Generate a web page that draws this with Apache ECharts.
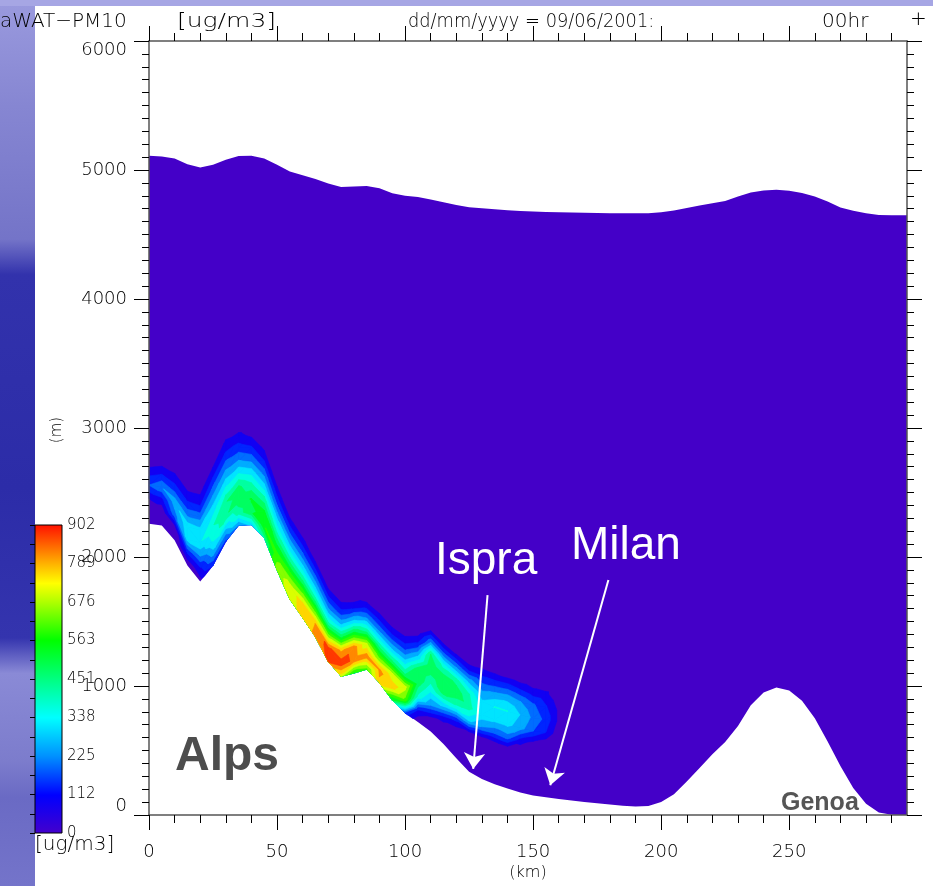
<!DOCTYPE html>
<html><head><meta charset="utf-8">
<script src="https://cdn.jsdelivr.net/npm/echarts@6/dist/echarts.min.js"></script>
<style>html,body{margin:0;padding:0;background:#fff}#c{width:933px;height:886px}</style>
</head><body><div id="c"></div>
<script>
// ---------------- data ----------------
const distKm = [0,5,10,15,20,25,30,35,40,45,50,55,60,65,70,75,80,85,90,95,100,105,110,115,120,125,130,135,140,145,150,155,160,165,170,175,180,185,190,195,200,205,210,215,220,225,230,235,240,245,250,255,260,265,270,275,280,285,290,295,296];
const terrainM = [2257,2244,2130,1935,1810,1935,2120,2245,2250,2150,1900,1673,1530,1380,1190,1075,1100,1130,1025,890,790,720,648,550,440,335,280,238,205,175,152,138,125,112,100,92,82,72,65,70,100,160,260,365,470,565,690,850,950,988,965,885,750,570,380,210,88,20,2,0,0];
const modelTopM = [5110,5105,5090,5045,5020,5040,5080,5108,5110,5090,5040,4988,4960,4930,4895,4868,4872,4876,4858,4820,4800,4790,4772,4750,4729,4712,4703,4695,4688,4682,4678,4675,4673,4670,4668,4666,4665,4664,4664,4664,4672,4686,4705,4725,4742,4760,4795,4825,4842,4846,4840,4822,4795,4755,4710,4685,4665,4651,4650,4650,4650];

// PM10 concentration (ug/m3) per column (km) at heights above ground (m)
const plumeKm = [0,5,10,15,20,25,30,35,40,45,50,55,60,65,70,75,80,85,90,95,100,105,110,115,120,125,130,135,140,145,150,155,160];
const plumeAglM = [0,100,200,300,400,500,600,700,800,900];
const pm10 = [
  [0,0,60,170,90,0,0,0,0,0],
  [0,0,90,220,110,20,0,0,0,0],
  [0,20,200,260,140,70,0,0,0,0],
  [0,120,300,320,200,110,40,0,0,0],
  [30,100,230,330,300,200,100,40,0,0],
  [120,260,350,390,330,260,180,100,30,0],
  [150,280,440,450,360,270,190,110,50,0],
  [220,420,490,460,340,230,140,70,0,0],
  [300,500,510,420,320,210,120,40,0,0],
  [430,560,520,420,300,200,110,40,0,0],
  [650,600,500,380,280,170,90,20,0,0],
  [700,700,580,430,300,180,80,0,0,0],
  [760,760,600,430,290,170,70,0,0,0],
  [800,790,600,400,260,140,40,0,0,0],
  [860,870,640,400,240,120,20,0,0,0],
  [700,880,780,500,280,130,30,0,0,0],
  [550,830,820,550,300,110,0,0,0,0],
  [600,820,680,420,220,70,0,0,0,0],
  [780,800,600,400,220,90,0,0,0,0],
  [500,760,700,460,270,120,20,0,0,0],
  [150,600,700,450,300,150,50,0,0,0],
  [0,120,380,480,500,300,130,20,0,0],
  [0,30,220,330,420,500,450,200,20,0],
  [0,0,80,300,480,500,380,180,20,0],
  [0,0,0,130,380,490,430,230,60,0],
  [0,0,0,30,300,420,400,260,80,0],
  [0,0,0,0,220,320,290,210,110,10],
  [0,0,0,0,180,300,340,240,120,10],
  [0,0,0,0,200,300,340,260,130,0],
  [0,0,0,0,80,250,280,230,110,0],
  [0,0,0,0,30,170,210,180,80,0],
  [0,0,0,0,0,110,150,120,70,0],
  [0,0,0,0,0,10,40,40,10,0]
];

const colorbarTicks = [0,112,225,338,451,563,676,789,902];
const xTickLabels = [0,50,100,150,200,250];
const yTickLabels = [0,1000,2000,3000,4000,5000,6000];
// annotation arrows: [startKm, startM, endKm, endM]
const arrowsKmM = [[132.2,1705,126.6,357],[179.4,1822,156.7,230]];

// ---------------- styling helpers ----------------
const DOMAIN_COLOR = '#4400c8';
const CMAX = 902;
const cmapStops = [[0,'#4400cc'],[112,'#0000ff'],[225,'#0090ff'],[338,'#00ffff'],[451,'#00ff80'],[563,'#00ff00'],[676,'#b0ff00'],[730,'#ffff00'],[789,'#ffb000'],[902,'#ff1000']];
function hex2rgb(h){return [parseInt(h.slice(1,3),16),parseInt(h.slice(3,5),16),parseInt(h.slice(5,7),16)];}
function cmap(v){
  for (let i=0;i<cmapStops.length-1;i++){
    const a=cmapStops[i][0], b=cmapStops[i+1][0];
    if (v<=b){ const t=(v-a)/(b-a); const A=hex2rgb(cmapStops[i][1]), B=hex2rgb(cmapStops[i+1][1]);
      return 'rgb('+A.map((x,k)=>Math.round(x+(B[k]-x)*t)).join(',')+')'; }
  }
  return cmapStops[cmapStops.length-1][1];
}
const NBANDS = 16, step = CMAX/NBANDS;
const levels = []; for (let b=1;b<NBANDS;b++) levels.push(b*step);
const bandColors = levels.map(L => cmap(L + step/2));

// terrain-following grid -> triangles -> filled contour polygons
function terrainAt(km){ return terrainM[distKm.indexOf(km)]; }
const P = plumeKm.map((km,i) => plumeAglM.map((h,j) => ({x:km, y:terrainAt(km)+h, v:pm10[i][j]})));
const tris = [];
for (let i=0;i<plumeKm.length-1;i++) for (let j=0;j<plumeAglM.length-1;j++){
  const a=P[i][j], b=P[i+1][j], c=P[i+1][j+1], d=P[i][j+1];
  tris.push([a,b,c]); tris.push([a,c,d]);
}
function clip(pts, L){
  const out=[];
  for (let i=0;i<pts.length;i++){
    const a=pts[i], b=pts[(i+1)%pts.length];
    const ain=a.v>=L, bin=b.v>=L;
    if (ain) out.push(a);
    if (ain!==bin){ const t=(L-a.v)/(b.v-a.v); out.push({x:a.x+t*(b.x-a.x), y:a.y+t*(b.y-a.y), v:L}); }
  }
  return out;
}
const bandPolys = levels.map(L => {
  const polys=[];
  tris.forEach(t => { if (Math.max(t[0].v,t[1].v,t[2].v) < L) return; const c=clip(t,L); if (c.length>=3) polys.push(c); });
  return polys;
});

const FONT = "'DejaVu Sans', sans-serif";
const ARIAL = "'Liberation Sans', Arial, sans-serif";
const xMinor=[]; for (let v=10; v<296; v+=10) if (v%50) xMinor.push(v);
const yMinor=[]; for (let v=100; v<6000; v+=100) if (v%1000) yMinor.push(v);

function axisX(pos, major, labels){
  return {gridIndex:0, type:'value', min:0, max:296, position:pos, z:10,
    axisLine:{show:major, onZero:false, lineStyle:{color:'#555', width:1.5}},
    axisTick:{show:true, customValues: major ? xTickLabels : xMinor, length: major?15:8, lineStyle:{color:'#000', width:1}},
    axisLabel:{show:labels, customValues: xTickLabels, margin:28, fontSize:18, fontWeight:200, fontFamily:FONT, color:'#000',
      formatter:function(v){ return String(v); }},
    splitLine:{show:false}, minorTick:{show:false}};
}
function axisY(pos, major, labels){
  return {gridIndex:0, type:'value', min:0, max:6000, position:pos, z:10,
    axisLine:{show:major, onZero:false, lineStyle:{color:'#555', width:1.5}},
    axisTick:{show:true, customValues: major ? yTickLabels : yMinor, length: major?15:7, lineStyle:{color:'#000', width:1}},
    axisLabel:{show:labels, customValues: yTickLabels, margin:22, fontSize:18, fontWeight:200, fontFamily:FONT, color:'#000',
      verticalAlignMaxLabel:'top', verticalAlignMinLabel:'bottom',
      formatter:function(v){ return String(v); }},
    splitLine:{show:false}, minorTick:{show:false}};
}

const leftGrad = new echarts.graphic.LinearGradient(0,0,0,1,[
  {offset:0,color:'#9a9ade'},{offset:0.12,color:'#8686d2'},{offset:0.27,color:'#7474c8'},{offset:0.31,color:'#3232ac'},
  {offset:0.55,color:'#2c2ca8'},{offset:0.72,color:'#3434ae'},{offset:0.76,color:'#8a8ad6'},{offset:0.86,color:'#7c7ccc'},
  {offset:0.9,color:'#6a6ac4'},{offset:1,color:'#7474ca'}]);

function txt(x,y,text,size,opts){
  opts=opts||{};
  return {type:'text', x:x, y:y, z:100, rotation:opts.rotation||0, scaleX:opts.sx||1, scaleY:1,
    style:{text:text, fill:opts.color||'#000', font:(opts.weight||'200')+' '+size+'px '+(opts.family||FONT),
      align:opts.align||'left', textAlign:opts.align||'left', verticalAlign:'middle', textVerticalAlign:'middle'}};
}

const option = {
  animation:false,
  backgroundColor:'#ffffff',
  grid:[
    {left:149, top:41, width:758, height:774, containLabel:false, outerBoundsMode:'none'},
    {left:35, top:525, width:27, height:308, containLabel:false, outerBoundsMode:'none'}
  ],
  xAxis:[ axisX('bottom',true,true), axisX('bottom',false,false), axisX('top',true,false), axisX('top',false,false),
    {gridIndex:1, type:'value', min:0, max:1, show:false} ],
  yAxis:[ axisY('left',true,true), axisY('left',false,false), axisY('right',true,false), axisY('right',false,false),
    {gridIndex:1, type:'value', min:0, max:CMAX, interval:step, position:'right', z:10,
      axisLine:{show:false}, splitLine:{show:false},
      axisTick:{show:true, inside:true, length:5, lineStyle:{color:'#000', width:1}},
      axisLabel:{show:true, margin:5, fontSize:15, fontWeight:200, fontFamily:FONT, color:'#000', showMaxLabel:true, showMinLabel:true,
        formatter:function(v){ const k=Math.round(v/step); return (k%2===0) ? String(colorbarTicks[k/2]) : ''; }}} ],
  graphic:[
    {type:'rect', z:-5, shape:{x:0,y:0,width:35,height:886}, style:{fill:leftGrad}},
    {type:'rect', z:-5, shape:{x:0,y:0,width:933,height:6}, style:{fill:'#a6a6e4'}},
    txt(0,22,'aWAT−PM10',20),
    txt(177,22,'[ug/m3]',20,{sx:1.25}),
    txt(408,22,'dd/mm/yyyy = 09/06/2001:',20,{sx:0.89}),
    txt(822,22,'00hr',20),
    txt(910,20,'+',20),
    txt(57,430,'(m)',15,{align:'center', rotation:Math.PI/2}),
    txt(528,873,'(km)',16,{align:'center'}),
    txt(35,845,'[ug/m3]',20),
    txt(175,757,'Alps',48,{weight:'bold', family:ARIAL, color:'#4d4d4d'}),
    txt(781,803,'Genoa',25,{weight:'bold', family:ARIAL, color:'#555555'}),
    txt(435,561,'Ispra',46,{weight:'normal', family:ARIAL, color:'#ffffff'}),
    txt(571,546,'Milan',46,{weight:'normal', family:ARIAL, color:'#ffffff'})
  ],
  series:[
    {type:'custom', name:'domain', xAxisIndex:0, yAxisIndex:0, z:1, silent:true, data:[[0]],
      renderItem:function(params, api){
        const pts=[];
        for (let i=0;i<distKm.length;i++) pts.push(api.coord([distKm[i], modelTopM[i]]));
        for (let i=distKm.length-1;i>=0;i--) pts.push(api.coord([distKm[i], terrainM[i]]));
        return {type:'polygon', shape:{points:pts}, style:{fill:DOMAIN_COLOR}};
      }},
    {type:'custom', name:'pm10', xAxisIndex:0, yAxisIndex:0, z:2, silent:true, data:levels.map((L,i)=>[i]),
      renderItem:function(params, api){
        const li=params.dataIndex, col=bandColors[li];
        return {type:'group', children: bandPolys[li].map(p => ({type:'polygon',
          shape:{points:p.map(q=>api.coord([q.x,q.y]))}, style:{fill:col, stroke:col, lineWidth:0.6}}))};
      }},
    {type:'line', xAxisIndex:0, yAxisIndex:0, z:3, data:[], silent:true,
      markLine:{silent:true, animation:false, symbol:['none','arrow'], symbolSize:16,
        lineStyle:{color:'#ffffff', width:2, type:'solid'}, itemStyle:{color:'#ffffff'}, label:{show:false},
        data: arrowsKmM.map(a => [{coord:[a[0],a[1]]},{coord:[a[2],a[3]]}])}},
    {type:'custom', name:'colorbar', xAxisIndex:4, yAxisIndex:4, z:2, silent:true, data:[[0]],
      renderItem:function(params, api){
        const p0=api.coord([0,0]), p1=api.coord([1,CMAX]);
        return {type:'rect', shape:{x:p0[0], y:p1[1], width:p1[0]-p0[0], height:p0[1]-p1[1]},
          style:{fill:{type:'linear', x:0, y:1, x2:0, y2:0, colorStops:cmapStops.map(s=>({offset:s[0]/CMAX, color:s[1]}))},
            stroke:'#000', lineWidth:1}};
      }}
  ]
};
const chart = echarts.init(document.getElementById('c'), null, {renderer:'canvas'});
chart.setOption(option);
</script>
</body></html>
